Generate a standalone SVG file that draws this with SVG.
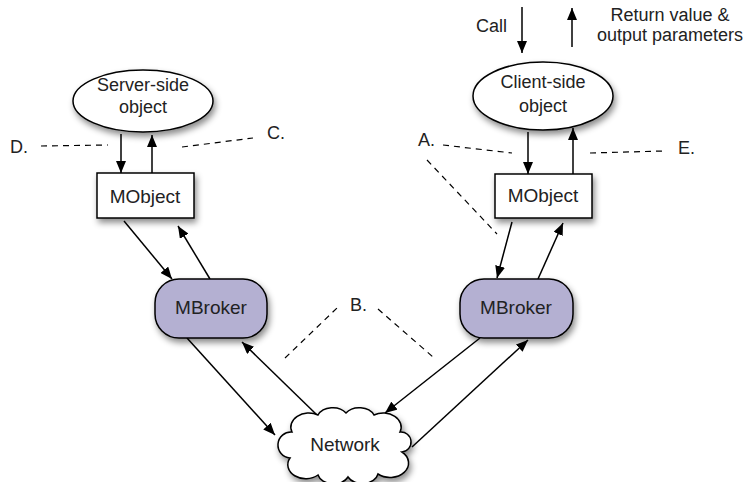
<svg xmlns="http://www.w3.org/2000/svg" width="748" height="482" viewBox="0 0 748 482">
<style>
text{font-family:"Liberation Sans",Arial,sans-serif;font-size:18px;fill:#222;}
.c{text-anchor:middle;}
.shape{stroke:#000;stroke-width:1.5;}
.obj{fill:#fff;}
.brk{fill:#b4b0d2;}
.arr{stroke:#000;stroke-width:1.5;fill:none;marker-end:url(#ah);}
.dash{stroke:#000;stroke-width:1.2;fill:none;stroke-dasharray:6 5;}
</style>
<defs>
<marker id="ah" viewBox="0 0 12 10" refX="12" refY="5" markerWidth="12" markerHeight="10" markerUnits="userSpaceOnUse" orient="auto">
<path d="M0,0 L12,5 L0,10 z" fill="#000"/>
</marker>
<filter id="sh" x="-20%" y="-20%" width="150%" height="160%">
<feDropShadow dx="2" dy="4" stdDeviation="3" flood-color="#000" flood-opacity="0.45"/>
</filter>
</defs>

<g id="connectors">
<line class="arr" x1="121" y1="134" x2="121" y2="173"/>
<line class="arr" x1="152" y1="173" x2="152" y2="135"/>
<line class="arr" x1="528" y1="132" x2="528" y2="174"/>
<line class="arr" x1="573" y1="174" x2="573" y2="128"/>
<line class="arr" x1="522" y1="7" x2="522" y2="53"/>
<line class="arr" x1="572" y1="47" x2="572" y2="8"/>
<line class="arr" x1="124" y1="221" x2="172" y2="279"/>
<line class="arr" x1="210" y1="279" x2="178" y2="226"/>
<line class="arr" x1="512" y1="222" x2="497" y2="278"/>
<line class="arr" x1="538" y1="279" x2="563" y2="223"/>
<line class="arr" x1="187" y1="338" x2="275" y2="435"/>
<line class="arr" x1="317" y1="415" x2="242" y2="342"/>
<line class="arr" x1="480" y1="338" x2="385" y2="413"/>
<line class="arr" x1="412" y1="447" x2="528" y2="340"/>
</g>

<g id="dashes">
<path class="dash" d="M41,146 L108,145"/>
<path class="dash" d="M182,147 L253,138"/>
<path class="dash" d="M443,145 L512,153"/>
<path class="dash" d="M427,160 L497,234"/>
<path class="dash" d="M590,153 L663,151"/>
<path class="dash" d="M285,358 L337,308"/>
<path class="dash" d="M378,309 L433,357"/>
</g>

<g id="server-object">
<ellipse class="shape obj" cx="143" cy="101" rx="70" ry="31" filter="url(#sh)"/>
<text class="c" x="143" y="91">Server-side</text>
<text class="c" x="143" y="113">object</text>
</g>

<g id="client-object">
<ellipse class="shape obj" cx="543" cy="96" rx="70" ry="34" filter="url(#sh)"/>
<text class="c" x="543" y="88">Client-side</text>
<text class="c" x="543" y="112">object</text>
</g>

<g id="server-mobject">
<rect class="shape obj" x="97" y="173" width="97" height="45" filter="url(#sh)"/>
<text class="c" x="145" y="203" style="font-size:19px">MObject</text>
</g>

<g id="client-mobject">
<rect class="shape obj" x="495" y="174" width="97" height="44" filter="url(#sh)"/>
<text class="c" x="543" y="202" style="font-size:19px">MObject</text>
</g>

<g id="server-mbroker">
<rect class="shape brk" x="155" y="279" width="112" height="59" rx="24" ry="24" filter="url(#sh)"/>
<text class="c" x="211" y="314" style="font-size:19px">MBroker</text>
</g>

<g id="client-mbroker">
<rect class="shape brk" x="460" y="279" width="113" height="59" rx="24" ry="24" filter="url(#sh)"/>
<text class="c" x="516" y="314" style="font-size:19px">MBroker</text>
</g>

<g id="network">
<path class="shape obj" filter="url(#sh)" d="M292,432 A18 14 0 0 1 318,415 A16 12 0 0 1 346,413 A16 12 0 0 1 374,415 A18 14 0 0 1 400,432 A10 10 0 0 1 402,452 A18 14 0 0 1 378,474 A16 12 0 0 1 348,477 A16 12 0 0 1 318,475 A18 14 0 0 1 290,458 A10 10 0 0 1 292,432 Z"/>
<text class="c" x="345" y="451" style="font-size:19px">Network</text>
</g>

<g id="labels">
<text x="507" y="32" text-anchor="end">Call</text>
<text class="c" x="670" y="21">Return value &amp;</text>
<text class="c" x="670" y="41">output parameters</text>
<text x="418" y="146">A.</text>
<text x="350" y="311">B.</text>
<text x="267" y="139">C.</text>
<text x="10" y="153">D.</text>
<text x="678" y="154">E.</text>
</g>
</svg>
